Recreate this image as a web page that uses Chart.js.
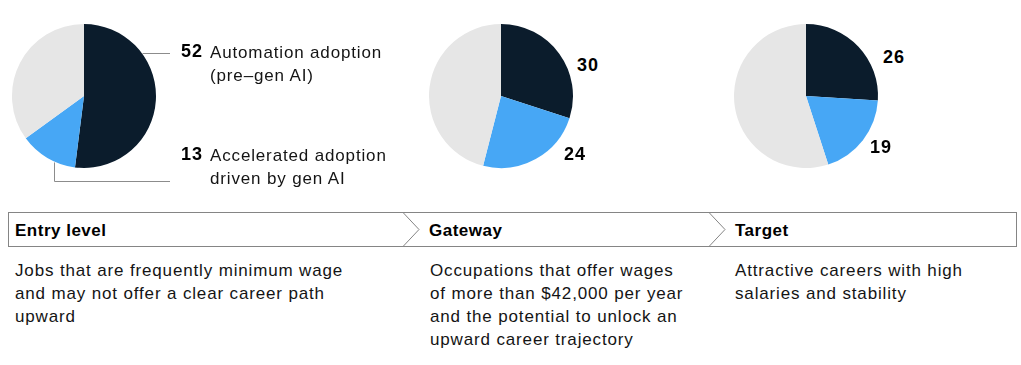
<!DOCTYPE html>
<html>
<head>
<meta charset="utf-8">
<script src="https://cdn.jsdelivr.net/npm/chart.js@4"></script>
<style>
  body { margin: 0; background: #fff; }
  #page { position: relative; width: 1021px; height: 365px; overflow: hidden;
          font-family: "Liberation Sans", Arial, sans-serif; font-size: 17px;
          letter-spacing: 0.85px; color: #141414; }
  canvas { position: absolute; }
  .txt { position: absolute; white-space: nowrap; line-height: 23px; }
  .num { font-weight: bold; color: #000; font-size: 18px; letter-spacing: 1px; }
  .title { font-weight: bold; color: #000; letter-spacing: 0.5px; }
  #band { position: absolute; left: 8px; top: 212px; width: 1009px; height: 35px;
          box-sizing: border-box; border: 1px solid #858585; }
  #chevrons { position: absolute; left: 0; top: 0; }
</style>
</head>
<body>
<div id="page">
  <div id="band"></div>
  <svg id="chevrons" width="1021" height="365">
    <polyline points="403,212.5 419,229.5 403,246.5" fill="none" stroke="#858585" stroke-width="1"/>
    <polyline points="709,212.5 725,229.5 709,246.5" fill="none" stroke="#858585" stroke-width="1"/>
  </svg>
  <canvas id="pie-0" width="400" height="200" style="left:0;top:0"></canvas>
  <canvas id="pie-1" width="150" height="150" style="left:426px;top:21px"></canvas>
  <canvas id="pie-2" width="150" height="150" style="left:731px;top:21px"></canvas>
</div>
<script>
// Data
const stages = ["Entry level", "Gateway", "Target"];
const automationAdoption = [52, 30, 26];
const acceleratedByGenAI = [13, 24, 19];
const notAutomated = [35, 46, 55];
const seriesLabels = ["Automation adoption\n(pre–gen AI)", "Accelerated adoption\ndriven by gen AI"];
const descriptions = [
  ["Jobs that are frequently minimum wage", "and may not offer a clear career path", "upward"],
  ["Occupations that offer wages", "of more than $42,000 per year", "and the potential to unlock an", "upward career trajectory"],
  ["Attractive careers with high", "salaries and stability"],
];

// Colours
const darkBlue = "#0b1c2c";
const lightBlue = "#47a7f5";
const lightGrey = "#e6e6e6";
const lineGrey = "#8c8c8c";

// Layout (text positions: left, top)
const stageX = [15, 429, 735];
const descX = [15, 430, 735];
const valueLabelPos = [
  [[203, 40.3], [203, 143.3]],
  [[577, 54.3], [564, 143.3]],
  [[883, 46.3], [870, 136.3]],
];

const page = document.getElementById("page");

function addText(text, left, top, cls, alignRight) {
  const el = document.createElement("div");
  el.className = "txt " + (cls || "");
  el.innerHTML = text.split("\n").join("<br>");
  if (alignRight) {
    el.style.right = (1021 - left) + "px";
  } else {
    el.style.left = left + "px";
  }
  el.style.top = top + "px";
  page.appendChild(el);
  return el;
}

// leader lines for the first pie, anchored on the arc
const leaderLines = {
  id: "leaderLines",
  afterDraw(chart) {
    const arc = chart.getDatasetMeta(0).data[0];
    const cx = arc.x;
    const cy = arc.y;
    const r = arc.outerRadius;
    const ctx = chart.ctx;
    ctx.save();
    ctx.strokeStyle = lineGrey;
    ctx.lineWidth = 1;
    // to the automation label
    const a1 = -37 * Math.PI / 180;
    const y1 = Math.round(cy + r * Math.sin(a1)) + 0.5;
    ctx.beginPath();
    ctx.moveTo(cx + r * Math.cos(a1) + 1, y1);
    ctx.lineTo(170, y1);
    ctx.stroke();
    // to the gen AI label
    const a2 = 114.6 * Math.PI / 180;
    const x2 = Math.round(cx + r * Math.cos(a2)) + 0.5;
    ctx.beginPath();
    ctx.moveTo(x2, cy + r * Math.sin(a2) + 1);
    ctx.lineTo(x2, 181.5);
    ctx.lineTo(170, 181.5);
    ctx.stroke();
    ctx.restore();
  },
};

function makePie(index) {
  const canvas = document.getElementById(`pie-${index}`);
  const padding = index === 0
    ? { left: 12, top: 24, right: 244, bottom: 32 }
    : 3;
  return new Chart(canvas, {
    type: "pie",
    data: {
      labels: ["Automation adoption (pre–gen AI)", "Accelerated adoption driven by gen AI", "Other"],
      datasets: [
        {
          data: [automationAdoption[index], acceleratedByGenAI[index], notAutomated[index]],
          backgroundColor: [darkBlue, lightBlue, lightGrey],
          borderWidth: 0,
        },
      ],
    },
    options: {
      responsive: false,
      animation: false,
      events: [],
      layout: { padding: padding },
      plugins: {
        legend: { display: false },
        tooltip: { enabled: false },
      },
    },
    plugins: index === 0 ? [leaderLines] : [],
  });
}

for (let i = 0; i < stages.length; i++) {
  makePie(i);
}

// value labels
for (let i = 0; i < stages.length; i++) {
  const values = [automationAdoption[i], acceleratedByGenAI[i]];
  for (let k = 0; k < values.length; k++) {
    const [x, y] = valueLabelPos[i][k];
    addText(String(values[k]), x, y, "num", i === 0);
  }
}
addText(seriesLabels[0], 210, 40.6, "");
addText(seriesLabels[1], 210, 143.6, "");

// stage band and descriptions
for (let i = 0; i < stages.length; i++) {
  addText(stages[i], stageX[i], 218.6, "title");
  addText(descriptions[i].join("\n"), descX[i], 258.6, "");
}
</script>
</body>
</html>
